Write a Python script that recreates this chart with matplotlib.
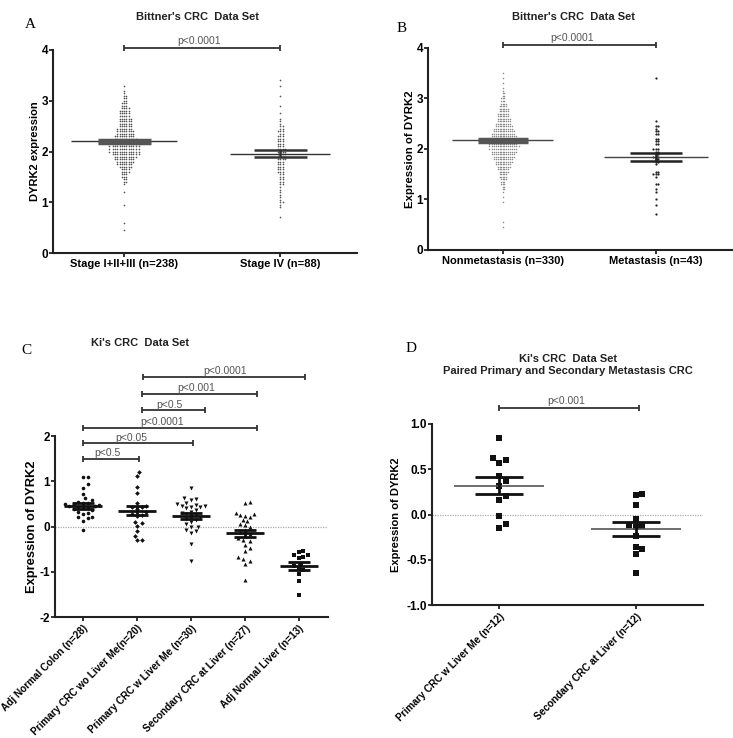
import numpy as np
import matplotlib
matplotlib.use("Agg")
import matplotlib.pyplot as plt

plt.rcParams['font.family'] = ['Liberation Sans', 'DejaVu Sans']
plt.rcParams['axes.unicode_minus'] = False

# ---- panel A : Bittner's CRC data set, stage ----
a_groups = ["Stage I+II+III (n=238)", "Stage IV (n=88)"]
a_early_levels = [0.45, 0.60, 0.95, 1.20, 1.35, 1.40, 1.45, 1.50, 1.55, 1.60, 1.65, 1.70,
                  1.75, 1.80, 1.85, 1.90, 1.95, 2.00, 2.05, 2.10, 2.15, 2.20, 2.25, 2.30,
                  2.35, 2.40, 2.45, 2.50, 2.55, 2.60, 2.65, 2.70, 2.75, 2.80, 2.85, 2.90,
                  2.95, 3.00, 3.05, 3.10, 3.15, 3.20, 3.30]
a_early_counts = [1, 1, 1, 1, 1, 2, 2, 3, 3, 4, 4, 6, 7, 8, 9, 10, 12, 13, 13, 13, 12, 12,
                  10, 9, 8, 8, 7, 6, 6, 6, 6, 5, 5, 5, 4, 3, 3, 2, 2, 2, 1, 1, 1]
a_late_levels = [0.70, 0.90, 0.95, 1.00, 1.05, 1.10, 1.15, 1.20, 1.25, 1.30, 1.35, 1.40,
                 1.45, 1.50, 1.55, 1.60, 1.65, 1.70, 1.75, 1.80, 1.85, 1.90, 1.95, 2.00,
                 2.05, 2.10, 2.15, 2.20, 2.25, 2.30, 2.35, 2.40, 2.45, 2.50, 2.55, 2.60,
                 2.65, 2.75, 2.90, 3.10, 3.30, 3.40]
a_late_counts = [1, 1, 1, 2, 1, 1, 1, 1, 1, 1, 2, 2, 2, 2, 2, 3, 3, 3, 3, 3, 4, 4, 4, 4,
                 4, 3, 3, 3, 3, 3, 2, 3, 2, 2, 1, 1, 1, 1, 1, 1, 1, 1]
a_means = [2.20, 1.96]
a_sems = [0.035, 0.06]

# ---- panel B : Bittner's CRC data set, metastasis ----
b_groups = ["Nonmetastasis (n=330)", "Metastasis (n=43)"]
b_non_levels = [0.45, 0.55, 0.95, 1.05, 1.15, 1.20, 1.25, 1.30, 1.35, 1.40, 1.45, 1.50,
                1.55, 1.60, 1.65, 1.70, 1.75, 1.80, 1.85, 1.90, 1.95, 2.00, 2.05, 2.10,
                2.15, 2.20, 2.25, 2.30, 2.35, 2.40, 2.45, 2.50, 2.55, 2.60, 2.65, 2.70,
                2.75, 2.80, 2.85, 2.90, 2.95, 3.00, 3.05, 3.10, 3.15, 3.20, 3.30, 3.40, 3.50]
b_non_counts = [1, 1, 1, 1, 1, 2, 2, 3, 3, 4, 5, 5, 6, 7, 8, 9, 10, 11, 12, 13, 14, 15,
                16, 15, 15, 15, 14, 13, 12, 11, 10, 9, 8, 8, 7, 7, 6, 6, 5, 4, 3, 3, 2,
                2, 1, 1, 1, 1, 1]
b_met_levels = [0.72, 0.90, 1.00, 1.15, 1.20, 1.30, 1.45, 1.50, 1.55, 1.70, 1.75, 1.80,
                1.85, 1.90, 1.95, 2.00, 2.10, 2.15, 2.20, 2.30, 2.35, 2.40, 2.45, 2.55, 3.41]
b_met_counts = [1, 1, 1, 1, 1, 2, 1, 3, 2, 1, 2, 2, 3, 2, 2, 3, 2, 2, 2, 2, 2, 1, 2, 1, 1]
b_means = [2.17, 1.84]
b_sems = [0.03, 0.085]

# ---- panel C : Ki's CRC data set ----
c_groups = ["Adj Normal Colon (n=28)", "Primary CRC wo Liver Me(n=20)",
            "Primary CRC w Liver Me (n=30)", "Secondary CRC at Liver (n=27)",
            "Adj Normal Liver (n=13)"]
c_adj_colon = [1.10, 1.09, 0.93, 0.85, 0.71, 0.62, 0.58, 0.55, 0.53, 0.52, 0.50, 0.49,
               0.47, 0.46, 0.45, 0.44, 0.42, 0.40, 0.38, 0.36, 0.33, 0.30, 0.28, 0.22,
               0.20, 0.18, 0.13, -0.08]
c_primary_wo = [1.21, 1.11, 0.87, 0.73, 0.52, 0.46, 0.44, 0.42, 0.38, 0.33, 0.28, 0.25,
                0.24, 0.11, 0.08, 0.01, -0.11, -0.21, -0.29, -0.30]
c_primary_w = [0.86, 0.62, 0.60, 0.58, 0.52, 0.50, 0.48, 0.46, 0.45, 0.44, 0.42, 0.40,
               0.37, 0.33, 0.30, 0.28, 0.25, 0.22, 0.20, 0.17, 0.14, 0.10, 0.05, 0.00,
               -0.02, -0.08, -0.10, -0.15, -0.38, -0.77]
c_secondary = [0.54, 0.52, 0.30, 0.27, 0.26, 0.24, 0.22, 0.15, 0.12, 0.06, 0.03, 0.00,
               -0.08, -0.12, -0.16, -0.20, -0.26, -0.30, -0.33, -0.40, -0.48, -0.55,
               -0.68, -0.72, -0.76, -0.82, -1.18]
c_adj_liver = [-0.55, -0.56, -0.62, -0.64, -0.68, -0.70, -0.82, -0.88, -0.92, -0.97,
               -1.05, -1.20, -1.52]
c_means = [0.45, 0.35, 0.24, -0.15, -0.875]
c_sems = [0.07, 0.095, 0.065, 0.08, 0.085]
c_markers = ['o', 'D', 'v', '^', 's']
# (start group, end group, height, label, label x)
c_brackets = [(0.0, 1.04, 1.49, "p<0.5", 0.46),
              (0.0, 2.04, 1.84, "p<0.05", 0.90),
              (0.0, 3.23, 2.18, "p<0.0001", 1.47),
              (1.10, 2.26, 2.57, "p<0.5", 1.60),
              (1.10, 3.23, 2.93, "p<0.001", 2.10),
              (1.12, 4.11, 3.30, "p<0.0001", 2.64)]

# ---- panel D : paired primary / secondary ----
d_groups = ["Primary CRC w Liver Me (n=12)", "Secondary CRC at Liver (n=12)"]
d_primary = [0.84, 0.62, 0.60, 0.57, 0.42, 0.37, 0.32, 0.20, 0.16, -0.02, -0.10, -0.15]
d_secondary = [0.23, 0.21, 0.11, -0.05, -0.12, -0.13, -0.14, -0.24, -0.36, -0.38, -0.44, -0.65]
d_means = [0.32, -0.16]
d_sems = [0.09, 0.08]


def swarm(ax, vals, d):
    # greedy beeswarm, d = minimum distance between points in pixels
    p0 = ax.transData.transform((0, 0))
    p1 = ax.transData.transform((1, 1))
    ppx, ppy = p1[0] - p0[0], p1[1] - p0[1]
    vals = np.asarray(vals, float)
    ys = vals * ppy
    xs = np.zeros(len(vals))
    done = []
    cand = [0.0]
    for k in range(1, 300):
        cand += [k * d / 2, -k * d / 2]
    for i in np.argsort(vals):
        idx = np.array(done, dtype=int)
        if len(idx):
            dy = ys[idx] - ys[i]
            near = np.abs(dy) < d
            nx, ny = xs[idx][near], dy[near]
        else:
            nx, ny = np.array([]), np.array([])
        for c in cand:
            if len(nx) == 0 or np.all(np.hypot(nx - c, ny) >= d):
                xs[i] = c
                break
        done.append(i)
    return xs / ppx


def mean_sem(ax, x, m, s, mw, sw, mean_kw, sem_kw):
    ax.hlines(m, x - mw, x + mw, **mean_kw)
    ax.hlines([m - s, m + s], x - sw, x + sw, **sem_kw)
    ax.vlines(x, m - s, m + s, **sem_kw)


def bracket(ax, x0, x1, y, text, tx, pad=1.5, fs=7.5):
    ax.plot([x0, x1], [y, y], color='#333333', lw=1.3, marker='|', ms=5, mew=1.3,
            clip_on=False, solid_capstyle='butt')
    ax.annotate(text, (tx, y), xytext=(0, pad), textcoords='offset points',
                ha='center', va='bottom', fontsize=fs, color='#555555',
                annotation_clip=False)


def style(ax, xfs=8, yfs=8.5):
    for s in ['top', 'right']:
        ax.spines[s].set_visible(False)
    for s in ['left', 'bottom']:
        ax.spines[s].set_linewidth(1.5)
        ax.spines[s].set_color('#222222')
    ax.tick_params(width=1.3, length=3, color='#222222', pad=1.5)
    ax.tick_params(axis='y', pad=0.5)
    ax.tick_params(axis='x', labelsize=xfs)
    ax.tick_params(axis='y', labelsize=yfs)
    for lab in ax.get_xticklabels() + ax.get_yticklabels():
        lab.set_fontweight('bold')


fig = plt.figure(figsize=(7.33, 7.38), dpi=100)
W, H = 733.0, 738.0


def add_axes(left, right, top, bottom):
    return fig.add_axes([left / W, 1 - bottom / H, (right - left) / W, (bottom - top) / H])


# ---------- A ----------
axA = add_axes(53, 357, 50, 253)
axA.set_xlim(-0.455, 1.49)
axA.set_ylim(0, 4)
axA.set_yticks([0, 1, 2, 3, 4])
axA.set_xticks([0, 1])
axA.set_xticklabels(a_groups)
for gi, (lv, ct) in enumerate([(a_early_levels, a_early_counts), (a_late_levels, a_late_counts)]):
    vals = np.repeat(lv, ct)
    axA.plot(gi + swarm(axA, vals, 2.3), vals, 'o', ms=1.2, mew=0, color='#555555')
mean_sem(axA, 0, a_means[0], a_sems[0], 0.34, 0.17,
         dict(color='#333333', lw=1.0), dict(color='#555555', lw=2.5))
mean_sem(axA, 1, a_means[1], a_sems[1], 0.32, 0.17,
         dict(color='#333333', lw=1.0), dict(color='#333333', lw=1.8))
bracket(axA, 0, 1, 4.04, "p<0.0001", 0.48)
axA.set_ylabel("DYRK2 expression", fontsize=8, fontweight='bold', labelpad=1)
style(axA)
fig.text(197 / W, 1 - 17 / H, "Bittner's CRC  Data Set", ha='center', va='center',
         fontsize=8, fontweight='bold', color='#222222')
fig.text(30 / W, 1 - 25 / H, "A", ha='center', va='center', fontsize=11,
         family='Liberation Serif')

# ---------- B ----------
axB = add_axes(428, 732, 48, 250)
axB.set_xlim(-0.49, 1.5)
axB.set_ylim(0, 4)
axB.set_yticks([0, 1, 2, 3, 4])
axB.set_xticks([0, 1])
axB.set_xticklabels(b_groups)
vals = np.repeat(b_non_levels, b_non_counts)
axB.plot(swarm(axB, vals, 1.6), vals, 'o', ms=1.1, mew=0, color='#8a8a8a')
vals = np.repeat(b_met_levels, b_met_counts)
axB.plot(1 + swarm(axB, vals, 2.2), vals, 'o', ms=1.6, mew=0, color='#222222')
mean_sem(axB, 0, b_means[0], b_sems[0], 0.33, 0.165,
         dict(color='#444444', lw=1.0), dict(color='#555555', lw=2.5))
mean_sem(axB, 1, b_means[1], b_sems[1], 0.34, 0.17,
         dict(color='#444444', lw=1.0), dict(color='#222222', lw=1.8))
bracket(axB, 0, 1, 4.05, "p<0.0001", 0.45)
axB.set_ylabel("Expression of DYRK2", fontsize=8.2, fontweight='bold', labelpad=1)
style(axB)
fig.text(573 / W, 1 - 17 / H, "Bittner's CRC  Data Set", ha='center', va='center',
         fontsize=8, fontweight='bold', color='#222222')
fig.text(402 / W, 1 - 29 / H, "B", ha='center', va='center', fontsize=11,
         family='Liberation Serif')

# ---------- C ----------
axC = add_axes(55, 328, 436, 617)
axC.set_xlim(-0.52, 4.54)
axC.set_ylim(-2, 2)
axC.set_yticks([-2, -1, 0, 1, 2])
axC.set_xticks(range(5))
axC.set_xticklabels(c_groups, rotation=45, ha='right', rotation_mode='anchor')
axC.axhline(0, color='#aaaaaa', lw=0.9, ls=(0, (1, 1)), zorder=0)
c_sets = [c_adj_colon, c_primary_wo, c_primary_w, c_secondary, c_adj_liver]
c_sizes = [2.6, 2.4, 2.9, 2.9, 3.0]
for gi, vals in enumerate(c_sets):
    axC.plot(gi + swarm(axC, vals, 4.6), vals, c_markers[gi], ms=c_sizes[gi], mew=0,
             color='#111111')
    mean_sem(axC, gi, c_means[gi], c_sems[gi], 0.35, 0.21,
             dict(color='#111111', lw=2.0), dict(color='#111111', lw=2.0))
for x0, x1, y, t, tx in c_brackets:
    bracket(axC, x0, x1, y, t, tx, pad=0.5, fs=7.5)
axC.set_ylabel("Expression of DYRK2", fontsize=9.3, fontweight='bold', labelpad=1)
style(axC, xfs=7.2, yfs=8.5)
fig.text(140 / W, 1 - 343 / H, "Ki's CRC  Data Set", ha='center', va='center',
         fontsize=8, fontweight='bold', color='#222222')
fig.text(26 / W, 1 - 350 / H, "C", ha='center', va='center', fontsize=11,
         family='Liberation Serif')

# ---------- D ----------
axD = add_axes(432, 703, 424, 605)
axD.set_xlim(-0.49, 1.49)
axD.set_ylim(-1, 1)
axD.set_yticks([-1.0, -0.5, 0.0, 0.5, 1.0])
axD.set_yticklabels(["-1.0", "-0.5", "0.0", "0.5", "1.0"])
axD.set_xticks([0, 1])
axD.set_xticklabels(d_groups, rotation=45, ha='right', rotation_mode='anchor')
axD.axhline(0, color='#aaaaaa', lw=0.9, ls=(0, (1, 1)), zorder=0)
for gi, vals in enumerate([d_primary, d_secondary]):
    axD.plot(gi + swarm(axD, vals, 6.5), vals, 's', ms=3.8, mew=0, color='#111111')
    mean_sem(axD, gi, d_means[gi], d_sems[gi], 0.33, 0.175,
             dict(color='#555555', lw=1.2), dict(color='#111111', lw=2.0))
bracket(axD, 0, 1.02, 1.18, "p<0.001", 0.49)
axD.set_ylabel("Expression of DYRK2", fontsize=8, fontweight='bold', labelpad=4)
style(axD, xfs=7.2, yfs=8.5)
fig.text(568 / W, 1 - 365 / H, "Ki's CRC  Data Set\nPaired Primary and Secondary Metastasis CRC",
         ha='center', va='center', fontsize=8, fontweight='bold', color='#222222',
         linespacing=1.15)
fig.text(411 / W, 1 - 348 / H, "D", ha='center', va='center', fontsize=11,
         family='Liberation Serif')

fig.savefig("out.png", dpi=100)
